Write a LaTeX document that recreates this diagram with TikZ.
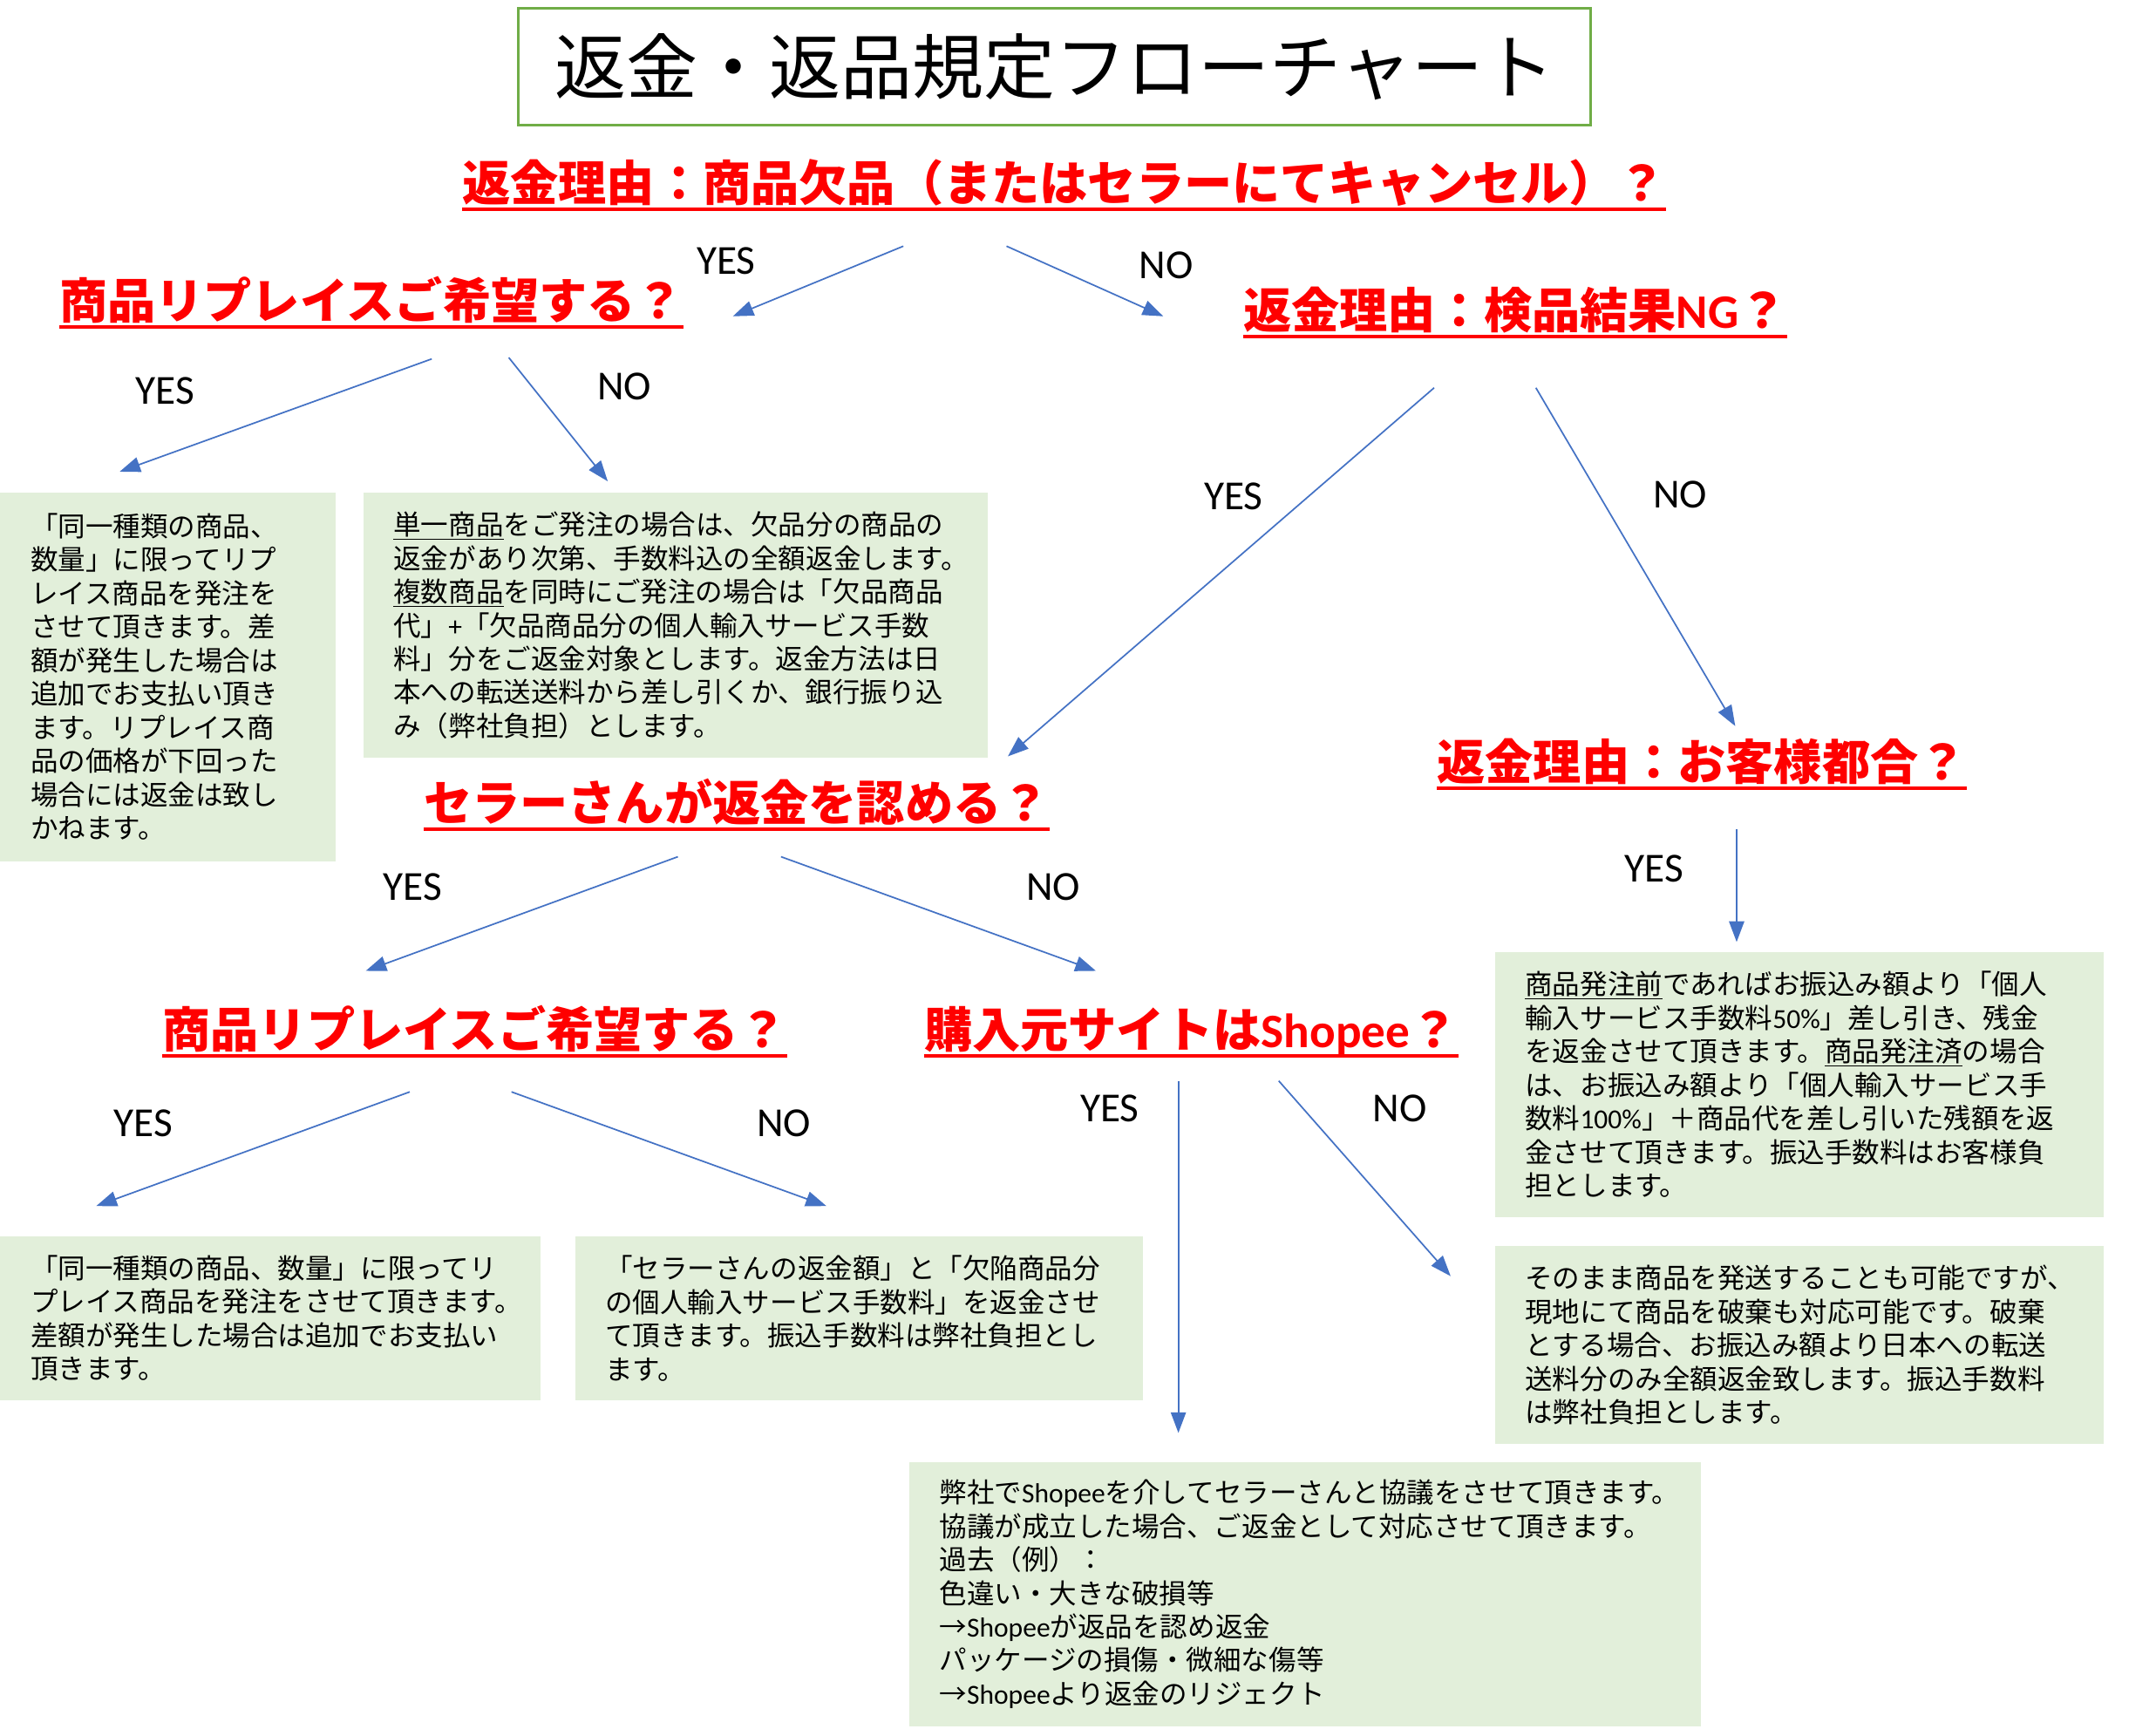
\documentclass[tikz,border=0pt]{standalone}
\usepackage{fontspec}
\setmainfont{Noto Sans CJK JP}
\newfontfamily\lat{Carlito}
\usetikzlibrary{arrows.meta}
\definecolor{qred}{HTML}{FF0000}
\definecolor{edgeblue}{HTML}{4472C4}
\definecolor{titlegreen}{HTML}{70AD47}
\definecolor{notegreen}{HTML}{E2EFDA}

\begin{document}
\begin{tikzpicture}[x=1pt,y=-1pt]
	\tikzstyle{question}=[anchor=base west,inner sep=0pt,text=qred,font=\fontsize{35}{40}\selectfont\bfseries]
	\tikzstyle{uline}=[draw=qred,line width=2.6pt]
	\tikzstyle{note}=[anchor=north west,fill=notegreen,inner xsep=22pt,inner ysep=0pt,align=left,font=\fontsize{20}{24.4}\selectfont]
	\tikzstyle{answer}=[font=\lat\fontsize{30}{36}\selectfont]
	\tikzstyle{edge}=[draw=edgeblue,line width=1.1pt,-{Triangle[length=15pt,width=11pt]}]
	\useasboundingbox (0,0) rectangle (1568,1257);

	% title
	\node [draw=titlegreen,line width=2pt,anchor=north west,minimum width=780pt,minimum height=85pt,font=\fontsize{52}{60}\selectfont] (title) at (376,5) {返金・返品規定フローチャート};

	% questions
	\node [question] (q1) at (336,146) {返金理由：商品欠品（またはセラーにてキャンセル）？};
	\node [question] (q2) at (43,232) {商品リプレイスご希望する？};
	\node [question] (q3) at (904,239) {返金理由：検品結果{\lat NG}？};
	\node [question] (q4) at (1045,567) {返金理由：お客様都合？};
	\node [question] (q5) at (308,597) {セラーさんが返金を認める？};
	\node [question] (q6) at (118,762) {商品リプレイスご希望する？};
	\node [question] (q7) at (672,762) {購入元サイトは{\lat Shopee}？};
	\foreach \i in {1,...,7}
		\draw [uline] ([yshift=-6pt]q\i.base west) -- ([yshift=-6pt]q\i.base east);

	% answers
	\node [note,text width=200pt,minimum height=268pt] (n1) at (0,358) {「同一種類の商品、\\数量」に限ってリプ\\レイス商品を発注を\\させて頂きます。差\\額が発生した場合は\\追加でお支払い頂き\\ます。リプレイス商\\品の価格が下回った\\場合には返金は致し\\かねます。};
	\node [note,text width=410pt,minimum height=193pt] (n2) at (264,358) {\underline{単一商品}をご発注の場合は、欠品分の商品の\\返金があり次第、手数料込の全額返金します。\\\underline{複数商品}を同時にご発注の場合は「欠品商品\\代」{\lat +}「欠品商品分の個人輸入サービス手数\\料」分をご返金対象とします。返金方法は日\\本への転送送料から差し引くか、銀行振り込\\み（弊社負担）とします。};
	\node [note,text width=399pt,minimum height=193pt] (n3) at (1087,692) {\underline{商品発注前}であればお振込み額より「個人\\輸入サービス手数料{\lat 50\%}」差し引き、残金\\を返金させて頂きます。\underline{商品発注済}の場合\\は、お振込み額より「個人輸入サービス手\\数料{\lat 100\%}」＋商品代を差し引いた残額を返\\金させて頂きます。振込手数料はお客様負\\担とします。};
	\node [note,text width=399pt,minimum height=144pt] (n4) at (1087,906) {そのまま商品を発送することも可能ですが、\\現地にて商品を破棄も対応可能です。破棄\\とする場合、お振込み額より日本への転送\\送料分のみ全額返金致します。振込手数料\\は弊社負担とします。};
	\node [note,text width=349pt,minimum height=119pt] (n5) at (0,899) {「同一種類の商品、数量」に限ってリ\\プレイス商品を発注をさせて頂きます。\\差額が発生した場合は追加でお支払い\\頂きます。};
	\node [note,text width=369pt,minimum height=119pt] (n6) at (418,899) {「セラーさんの返金額」と「欠陥商品分\\の個人輸入サービス手数料」を返金させ\\て頂きます。振込手数料は弊社負担とし\\ます。};
	\node [note,text width=532pt,minimum height=192pt] (n7) at (661,1063) {弊社で{\lat Shopee}を介してセラーさんと協議をさせて頂きます。\\協議が成立した場合、ご返金として対応させて頂きます。\\過去（例）：\\色違い・大きな破損等\\→{\lat Shopee}が返品を認め返金\\パッケージの損傷・微細な傷等\\→{\lat Shopee}より返金のリジェクト};

	% yes / no labels
	\node [answer] (y1) at (528,190) {YES};
	\node [answer] (x1) at (848,193) {NO};
	\node [answer] (y2) at (120,284) {YES};
	\node [answer] (x2) at (454,281) {NO};
	\node [answer] (y3) at (897,361) {YES};
	\node [answer] (x3) at (1222,360) {NO};
	\node [answer] (y4) at (1203,632) {YES};
	\node [answer] (y5) at (300,645) {YES};
	\node [answer] (x5) at (766,645) {NO};
	\node [answer] (y6) at (104,817) {YES};
	\node [answer] (x6) at (570,817) {NO};
	\node [answer] (y7) at (807,806) {YES};
	\node [answer] (x7) at (1018,806) {NO};

	% arrow ends
	\coordinate (q1y) at (657,179);  \coordinate (e1y) at (533,230);
	\coordinate (q1x) at (732,179);  \coordinate (e1x) at (846,230);
	\coordinate (q2y) at (314,261);  \coordinate (e2y) at (87,343);
	\coordinate (q2x) at (370,260);  \coordinate (e2x) at (442,350);
	\coordinate (q3y) at (1043,282); \coordinate (e3y) at (733,550);
	\coordinate (q3x) at (1117,282); \coordinate (e3x) at (1262,528);
	\coordinate (q4y) at (1263,603); \coordinate (e4y) at (1263,685);
	\coordinate (q5y) at (493,623);  \coordinate (e5y) at (266,706);
	\coordinate (q5x) at (568,623);  \coordinate (e5x) at (797,706);
	\coordinate (q6y) at (298,794);  \coordinate (e6y) at (70,877);
	\coordinate (q6x) at (372,794);  \coordinate (e6x) at (601,877);
	\coordinate (q7y) at (857,786);  \coordinate (e7y) at (857,1042);
	\coordinate (q7x) at (930,786);  \coordinate (e7x) at (1055,928);

	\path [edge] (q1y) -- (e1y);
	\path [edge] (q1x) -- (e1x);
	\path [edge] (q2y) -- (e2y);
	\path [edge] (q2x) -- (e2x);
	\path [edge] (q3y) -- (e3y);
	\path [edge] (q3x) -- (e3x);
	\path [edge] (q4y) -- (e4y);
	\path [edge] (q5y) -- (e5y);
	\path [edge] (q5x) -- (e5x);
	\path [edge] (q6y) -- (e6y);
	\path [edge] (q6x) -- (e6x);
	\path [edge] (q7y) -- (e7y);
	\path [edge] (q7x) -- (e7x);
\end{tikzpicture}
\end{document}
